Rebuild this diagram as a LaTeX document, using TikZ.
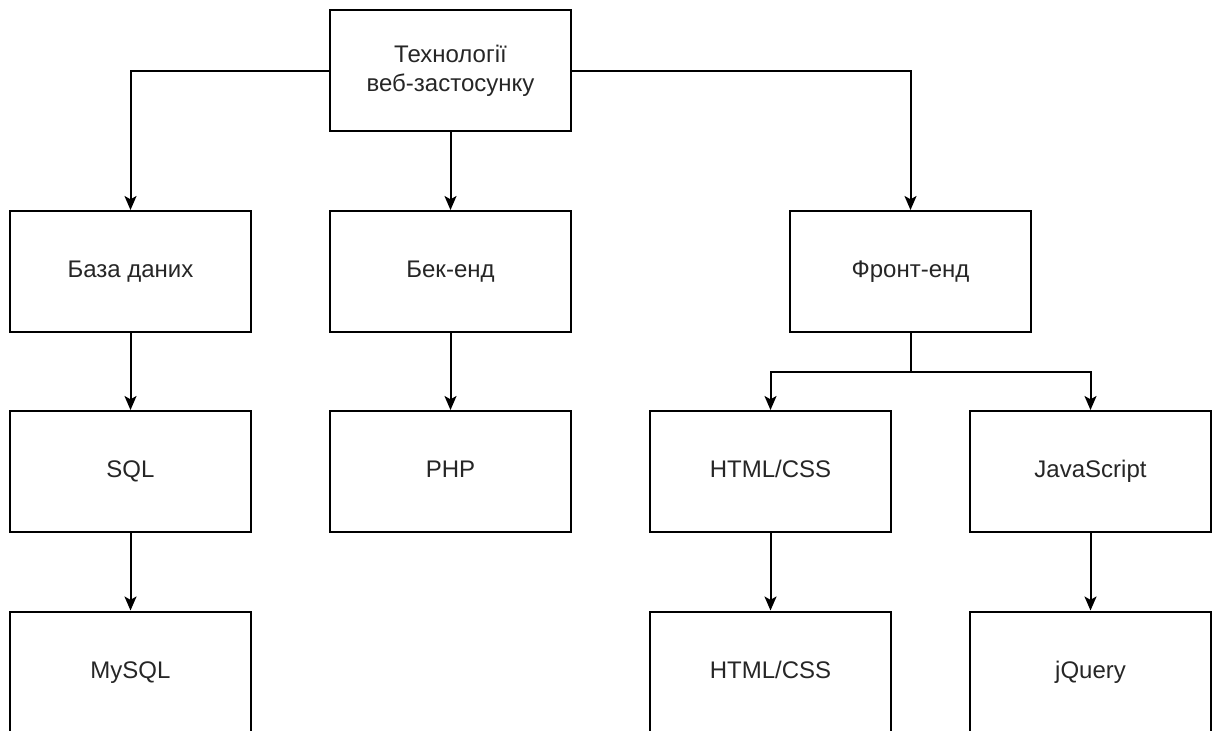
\documentclass[tikz,border=0pt]{standalone}
\usepackage{fontspec}
\setmainfont{Liberation Sans}
\usetikzlibrary{arrows.meta}
\tikzset{
  box/.style={draw=black, line width=1.5pt, fill=white, minimum width=180.75pt, minimum height=90.75pt,
    inner sep=0pt, align=center, font=\fontsize{18pt}{21.6pt}\selectfont, text=black!85},
  oneline/.style={box, text height=13pt, text depth=4pt},
  conn/.style={line width=1.5pt, -{Stealth[length=10.5pt, width=9pt, inset=2.5pt]}}
}
\begin{document}
\begin{tikzpicture}[x=0.75pt, y=-0.75pt]
\useasboundingbox (0,0) rectangle (1216,731);
\clip (0,0) rectangle (1216,731);
\node[box] (top) at (450.5,71) {Технології\\веб-застосунку};
\node[oneline] (db) at (130.5,271.5) {База даних};
\node[oneline] (be) at (450.5,271.5) {Бек-енд};
\node[oneline] (fe) at (910.5,271.5) {Фронт-енд};
\node[oneline] (sql) at (130.5,471.5) {SQL};
\node[oneline] (php) at (450.5,471.5) {PHP};
\node[oneline] (html) at (770.5,471.5) {HTML/CSS};
\node[oneline] (js) at (1090.5,471.5) {JavaScript};
\node[oneline] (mysql) at (130.5,672) {MySQL};
\node[oneline] (html2) at (770.5,672) {HTML/CSS};
\node[oneline] (jq) at (1090.5,672) {jQuery};
\coordinate (fork) at (910.5,372);
\draw[conn] (top.west) -| (db.north);
\draw[conn] (top.south) -- (be.north);
\draw[conn] (top.east) -| (fe.north);
\draw[conn] (db.south) -- (sql.north);
\draw[conn] (be.south) -- (php.north);
\draw[line width=1.5pt] (fe.south) -- (fork);
\draw[conn] (fork) -| (html.north);
\draw[conn] (fork) -| (js.north);
\draw[conn] (sql.south) -- (mysql.north);
\draw[conn] (html.south) -- (html2.north);
\draw[conn] (js.south) -- (jq.north);
\end{tikzpicture}
\end{document}
